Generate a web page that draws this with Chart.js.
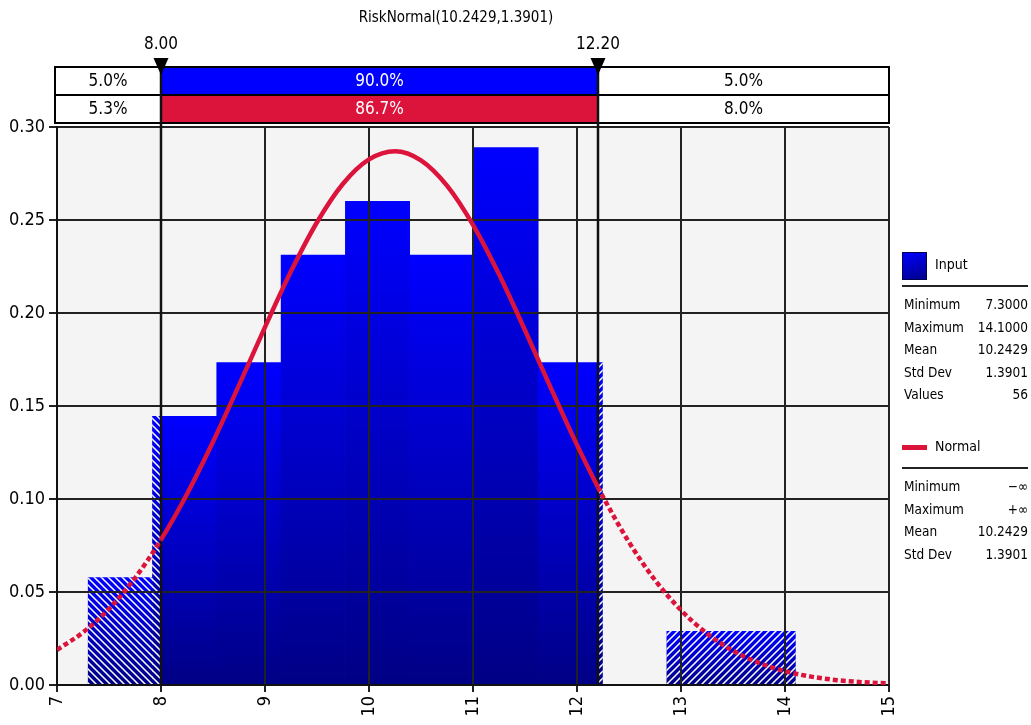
<!DOCTYPE html>
<html lang="en">
<head>
    <meta charset="UTF-8">
    <title>RiskNormal fit</title>
    <script src="https://cdn.jsdelivr.net/npm/chart.js"></script>
    <style>
        body {
            margin: 0;
            background: #fff;
            font-family: 'DejaVu Sans Condensed', 'DejaVu Sans', sans-serif;
        }
        #wrap {
            position: relative;
            width: 1031px;
            height: 725px;
            overflow: hidden;
        }
        #title {
            position: absolute;
            left: 256px;
            width: 400px;
            top: 7px;
            text-align: center;
            font-size: 15px;
            line-height: 20px;
        }
        .legend {
            position: absolute;
            left: 902px;
            width: 126px;
            font-size: 13.5px;
        }
        .legend .head {
            position: relative;
            height: 30px;
        }
        .legend .head span {
            position: absolute;
            left: 33px;
            top: 5px;
            font-size: 14px;
        }
        .legend .sep {
            border-top: 2px solid #222;
            margin: 4px 0 6px 0;
        }
        .legend .row {
            display: flex;
            justify-content: space-between;
            height: 22.5px;
            line-height: 22.5px;
            padding-left: 2px;
        }
        .swatch {
            position: absolute;
            left: 0;
            top: 1px;
            width: 23px;
            height: 26px;
            background: linear-gradient(160deg, #0000ff, #00008a);
            border: 1px solid #000050;
        }
        .redline {
            position: absolute;
            left: 0;
            top: 12px;
            width: 25px;
            height: 5px;
            background: #dc143c;
        }
    </style>
</head>
<body>
<div id="wrap">
    <canvas id="chart" width="1031" height="725"></canvas>
    <div id="title">RiskNormal(10.2429,1.3901)</div>
    <div class="legend" id="legInput" style="top:251px"></div>
    <div class="legend" id="legFit" style="top:433px"></div>
</div>

<script>
// histogram bins (centres) and density heights
const binCenters = [7.609, 8.227, 8.845, 9.464, 10.082, 10.700, 11.318, 11.936, 12.555, 13.173, 13.791];
const binDensity = [0.0578, 0.1444, 0.1733, 0.2311, 0.2600, 0.2311, 0.2889, 0.1733, 0, 0.0289, 0.0289];

// fitted normal curve, sampled along x
const curveX = [7, 7.25, 7.5, 7.75, 8, 8.25, 8.5, 8.75, 9, 9.25, 9.5, 9.75, 10, 10.25, 10.5, 10.75,
                11, 11.25, 11.5, 11.75, 12, 12.2, 12.25, 12.5, 12.75, 13, 13.25, 13.5, 13.75, 14,
                14.25, 14.5, 14.75, 15];
const curveY = [0.0189, 0.0283, 0.0410, 0.0575, 0.0781, 0.1027, 0.1308, 0.1612, 0.1924, 0.2224, 0.2488,
                0.2695, 0.2826, 0.2870, 0.2821, 0.2685, 0.2474, 0.2208, 0.1907, 0.1595, 0.1291, 0.1065,
                0.1012, 0.0768, 0.0564, 0.0402, 0.0277, 0.0184, 0.0119, 0.0074, 0.0045, 0.0026,
                0.0015, 0.0008];

// delimiters and band percentages
const cutLow = 8.0;
const cutHigh = 12.2;
const cutLabels = ['8.00', '12.20'];
const inputPct = ['5.0%', '90.0%', '5.0%'];
const fitPct = ['5.3%', '86.7%', '8.0%'];

const xTicks = [7, 8, 9, 10, 11, 12, 13, 14, 15];

const inputStats = [['Minimum', '7.3000'], ['Maximum', '14.1000'], ['Mean', '10.2429'], ['Std Dev', '1.3901'], ['Values', '56']];
const fitStats = [['Minimum', '\u2212\u221e'], ['Maximum', '+\u221e'], ['Mean', '10.2429'], ['Std Dev', '1.3901']];

const FONT = "'DejaVu Sans Condensed', 'DejaVu Sans', sans-serif";
const BLUE = '#0000ff';
const RED = '#dc143c';

// legend panel
function buildLegend(el, head, stats) {
    let html = '<div class="head">' + head + '</div><div class="sep"></div>';
    stats.forEach(s => {
        html += '<div class="row"><span>' + s[0] + '</span><span>' + s[1] + '</span></div>';
    });
    el.innerHTML = html;
}
buildLegend(document.getElementById('legInput'), '<div class="swatch"></div><span>Input</span>', inputStats);
buildLegend(document.getElementById('legFit'), '<div class="redline"></div><span>Normal</span>', fitStats);

const ctx = document.getElementById('chart').getContext('2d');

// white diagonal stripes for the tails outside the delimiters
function makeHatch(dir) {
    const s = 7;
    const cv = document.createElement('canvas');
    cv.width = s; cv.height = s;
    const g = cv.getContext('2d');
    g.strokeStyle = '#ffffff';
    g.lineWidth = 1.5;
    g.beginPath();
    if (dir > 0) {
        g.moveTo(-1, s + 1); g.lineTo(s + 1, -1);
        g.moveTo(-1, 1); g.lineTo(1, -1);
        g.moveTo(s - 1, s + 1); g.lineTo(s + 1, s - 1);
    } else {
        g.moveTo(-1, -1); g.lineTo(s + 1, s + 1);
        g.moveTo(s - 1, -1); g.lineTo(s + 1, 1);
        g.moveTo(-1, s - 1); g.lineTo(1, s + 1);
    }
    g.stroke();
    return ctx.createPattern(cv, 'repeat');
}
const hatchBack = makeHatch(-1);
const hatchFwd = makeHatch(1);

function barGradient(c) {
    const chart = c.chart;
    if (!chart.chartArea || c.dataIndex === undefined) return BLUE;
    const y = chart.scales.y;
    const top = y.getPixelForValue(binDensity[c.dataIndex]);
    const bot = y.getPixelForValue(0);
    const g = chart.ctx.createLinearGradient(0, top, 0, bot);
    g.addColorStop(0, '#0000ff');
    g.addColorStop(1, '#000085');
    return g;
}

// plot background
const background = {
    id: 'background',
    beforeDraw(chart) {
        const { ctx, chartArea: a } = chart;
        ctx.save();
        ctx.fillStyle = '#fff';
        ctx.fillRect(0, 0, chart.width, chart.height);
        ctx.fillStyle = '#f4f4f4';
        ctx.fillRect(a.left, a.top, a.width, a.height);
        ctx.restore();
    }
};

// clip hatch to the tails, then put grid + delimiter lines over the bars
const tails = {
    id: 'tails',
    beforeDatasetDraw(chart, args) {
        if (args.index !== 1) return;
        const { ctx, chartArea: a, scales: { x } } = chart;
        const l = x.getPixelForValue(cutLow), r = x.getPixelForValue(cutHigh);
        ctx.save();
        ctx.beginPath();
        ctx.rect(a.left, a.top, l - a.left, a.height);
        ctx.rect(r, a.top, a.right - r, a.height);
        ctx.clip();
    },
    afterDatasetDraw(chart, args) {
        if (args.index !== 1) return;
        const { ctx, chartArea: a, scales: { x, y } } = chart;
        ctx.restore();
        x.drawGrid(a);
        y.drawGrid(a);
        x.drawBorder();
        y.drawBorder();
        ctx.save();
        ctx.strokeStyle = '#111';
        ctx.lineWidth = 2.5;
        [cutLow, cutHigh].forEach(v => {
            const px = Math.round(x.getPixelForValue(v));
            ctx.beginPath();
            ctx.moveTo(px, a.top);
            ctx.lineTo(px, a.bottom);
            ctx.stroke();
        });
        ctx.restore();
    }
};

// percentage band + delimiter markers above the plot
const band = {
    id: 'band',
    afterDraw(chart) {
        const { ctx, chartArea: a, scales: { x } } = chart;
        const L = a.left - 2, R = a.right;
        const l = Math.round(x.getPixelForValue(cutLow));
        const r = Math.round(x.getPixelForValue(cutHigh));
        const rows = [[67, 95, BLUE, inputPct], [95, 123, RED, fitPct]];
        ctx.save();
        ctx.font = '17px ' + FONT;
        ctx.textAlign = 'center';
        ctx.textBaseline = 'middle';
        rows.forEach(([t, b, col, pct]) => {
            ctx.fillStyle = '#fff';
            ctx.fillRect(L, t, R - L, b - t);
            ctx.fillStyle = col;
            ctx.fillRect(l, t, r - l, b - t);
            const mid = (t + b) / 2 + 1;
            ctx.fillStyle = '#000';
            ctx.fillText(pct[0], (L + l) / 2, mid);
            ctx.fillText(pct[2], (r + R) / 2, mid);
            ctx.fillStyle = '#fff';
            ctx.fillText(pct[1], (l + r) / 2, mid);
        });
        ctx.strokeStyle = '#000';
        ctx.lineWidth = 2;
        ctx.strokeRect(L, 67, R - L, 56);
        ctx.beginPath();
        ctx.moveTo(L, 95); ctx.lineTo(R, 95);
        ctx.stroke();
        ctx.strokeStyle = '#111';
        ctx.lineWidth = 2.5;
        [l, r].forEach((px, i) => {
            ctx.beginPath();
            ctx.moveTo(px, 67); ctx.lineTo(px, a.top);
            ctx.stroke();
            ctx.fillStyle = '#000';
            ctx.beginPath();
            ctx.moveTo(px - 7.5, 58); ctx.lineTo(px + 7.5, 58); ctx.lineTo(px, 75);
            ctx.closePath();
            ctx.fill();
            ctx.fillText(cutLabels[i], px, 45);
        });
        ctx.restore();
    }
};

new Chart(ctx, {
    type: 'bar',
    data: {
        datasets: [
            {
                type: 'bar',
                label: 'Input',
                data: binCenters.map((c, i) => ({ x: c, y: binDensity[i] })),
                backgroundColor: barGradient,
                borderWidth: 0,
                barPercentage: 1,
                categoryPercentage: 1,
                grouped: false,
                order: 3
            },
            {
                type: 'bar',
                label: 'tails',
                data: binCenters.map((c, i) => ({ x: c, y: binDensity[i] })),
                backgroundColor: c => (binCenters[c.dataIndex] < cutLow + 0.5 ? hatchBack : hatchFwd),
                borderWidth: 0,
                barPercentage: 1,
                categoryPercentage: 1,
                grouped: false,
                order: 2
            },
            {
                type: 'line',
                label: 'Normal',
                data: curveX.map((v, i) => ({ x: v, y: curveY[i] })),
                borderColor: RED,
                borderWidth: 4.5,
                pointRadius: 0,
                cubicInterpolationMode: 'monotone',
                borderCapStyle: 'butt',
                segment: {
                    borderDash: c => (c.p0.parsed.x < cutLow || c.p1.parsed.x > cutHigh ? [5, 3] : undefined)
                },
                order: 1
            }
        ]
    },
    options: {
        responsive: false,
        animation: false,
        layout: { padding: { top: 127, right: 142, left: 0, bottom: 0 } },
        plugins: {
            legend: { display: false },
            tooltip: { enabled: false }
        },
        scales: {
            x: {
                type: 'linear',
                min: 7,
                max: 15,
                offset: false,
                afterFit: s => { s.height = 40; },
                afterBuildTicks: s => { s.ticks = xTicks.map(v => ({ value: v })); },
                ticks: {
                    minRotation: 90,
                    maxRotation: 90,
                    padding: 4,
                    color: '#000',
                    font: { family: FONT, size: 18 },
                    callback: v => String(v)
                },
                grid: { offset: false, color: '#222', lineWidth: 2, tickLength: 7, tickColor: '#222' },
                border: { color: '#111', width: 2 }
            },
            y: {
                min: 0,
                max: 0.3,
                afterFit: s => { s.width = 57; },
                ticks: {
                    stepSize: 0.05,
                    padding: 4,
                    color: '#000',
                    font: { family: FONT, size: 18 },
                    callback: v => Number(v).toFixed(2)
                },
                grid: { color: '#222', lineWidth: 2, tickLength: 8, tickColor: '#222' },
                border: { color: '#111', width: 2 }
            }
        }
    },
    plugins: [background, tails, band]
});
</script>
</body>
</html>
